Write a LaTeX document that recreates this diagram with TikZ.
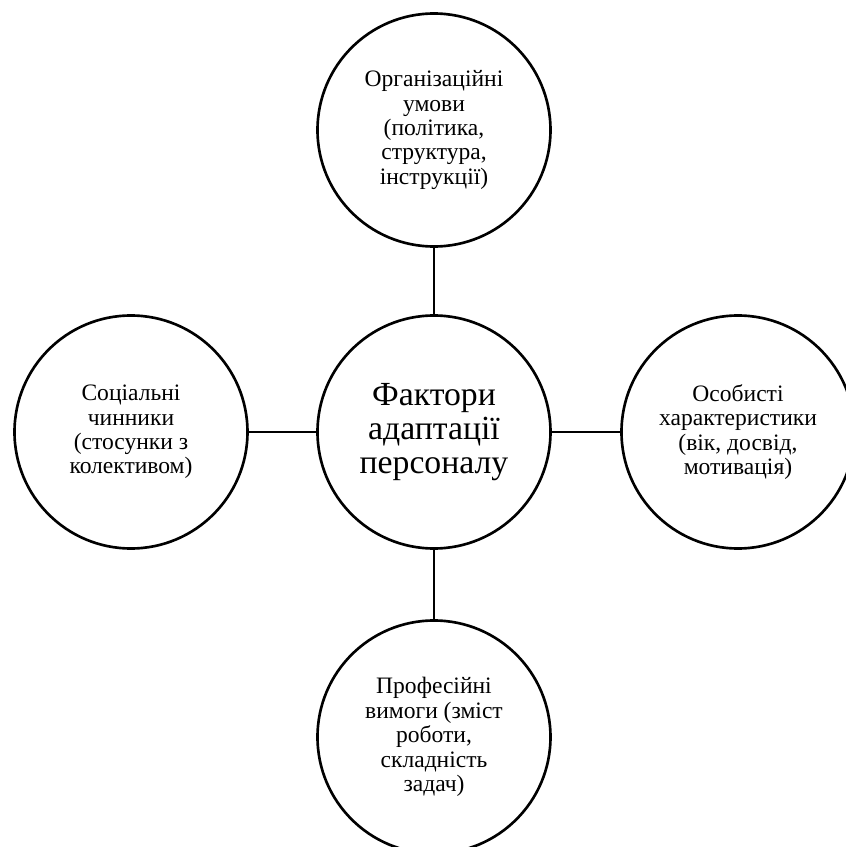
\documentclass[tikz,border=0pt]{standalone}
\usepackage{fontspec}
\setmainfont{Liberation Serif}
\usepackage{tikz}

\begin{document}
\begin{tikzpicture}[
  factor/.style={draw, circle, line width=1.5pt, minimum size=4.66cm, inner sep=0pt,
    align=center, font=\fontsize{13.4}{13.9}\selectfont},
  mainfactor/.style={factor, font=\fontsize{19.2}{19.4}\selectfont}
]
  % Frame of the picture
  \useasboundingbox (-8.68,-8.30) rectangle (8.24,8.64);

  % Centre circle
  \node[mainfactor] (centre) at (0,0) {Фактори\\адаптації\\персоналу};

  % Outer circles
  \node[factor] (org) at (0,6.04) {Організаційні\\умови\\(політика,\\структура,\\інструкції)};  % top
  \node[factor] (soc) at (-6.06,0) {Соціальні\\чинники\\(стосунки з\\колективом)};  % left
  \node[factor] (pers) at (6.08,0) {Особисті\\характеристики\\(вік, досвід,\\мотивація)};  % right
  \node[factor] (prof) at (0,-6.10) {Професійні\\вимоги (зміст\\роботи,\\складність\\задач)};  % bottom

  % Connect outer circles to the centre
  \foreach \n in {org,soc,pers,prof} {
    \draw[line width=1.5pt] (centre) -- (\n);
  }
\end{tikzpicture}
\end{document}
